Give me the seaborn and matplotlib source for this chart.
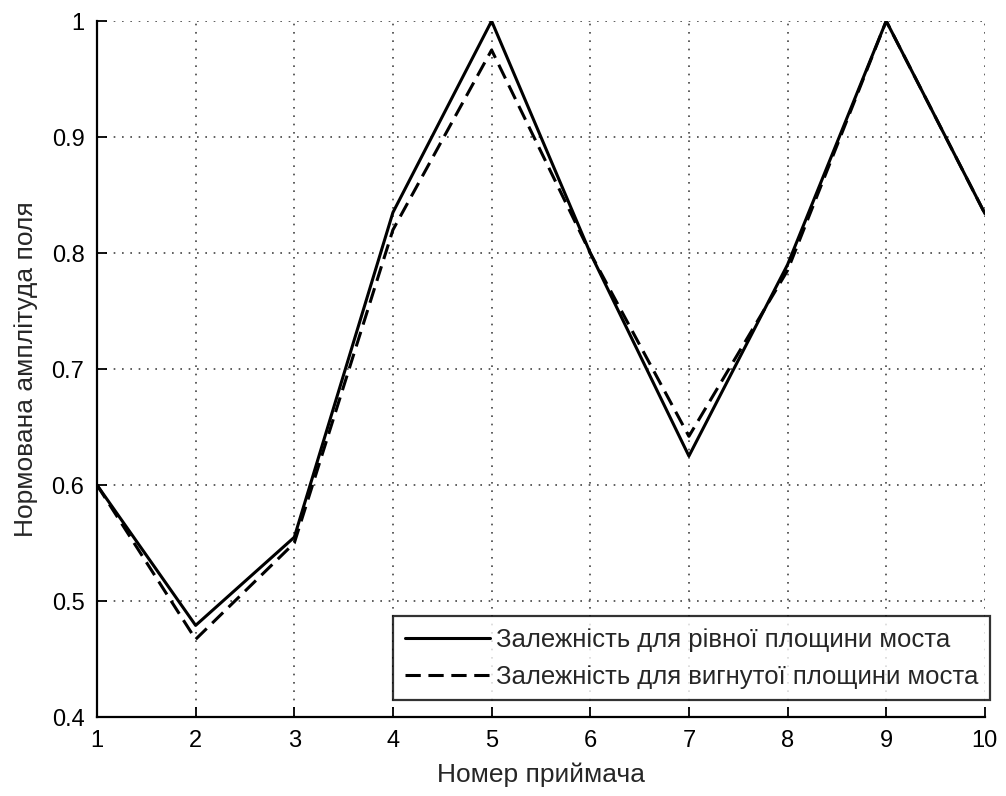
import matplotlib
matplotlib.use("Agg")
import matplotlib.pyplot as plt
import seaborn as sns
import pandas as pd

receivers = [1, 2, 3, 4, 5, 6, 7, 8, 9, 10]
flat = [0.600, 0.479, 0.555, 0.835, 1.000, 0.800, 0.625, 0.790, 1.000, 0.834]
bent = [0.600, 0.467, 0.550, 0.820, 0.975, 0.800, 0.642, 0.785, 1.000, 0.834]
series_names = ["Залежність для рівної площини моста",
                "Залежність для вигнутої площини моста"]
xticks = [1, 2, 3, 4, 5, 6, 7, 8, 9, 10]
yticks = [0.4, 0.5, 0.6, 0.7, 0.8, 0.9, 1.0]
ytick_labels = ["0.4", "0.5", "0.6", "0.7", "0.8", "0.9", "1"]
xlabel = "Номер приймача"
ylabel = "Нормована амплітуда поля"

df = pd.DataFrame({
    "x": receivers * 2,
    "y": flat + bent,
    "series": [series_names[0]] * len(receivers) + [series_names[1]] * len(receivers),
})

sns.set_style("ticks")
plt.rcParams["font.family"] = ["Liberation Sans", "DejaVu Sans"]

fig = plt.figure(figsize=(10.06, 7.96), dpi=100)
ax = fig.add_axes([0.0964, 0.0992, 0.979 - 0.0964, 0.9736 - 0.0992])

sns.lineplot(data=df, x="x", y="y", style="series", color="black",
             dashes={series_names[0]: "", series_names[1]: (5, 2.5)},
             linewidth=2.2, ax=ax, legend=True)

ax.set_xlim(1, 10)
ax.set_ylim(0.4, 1.0)
ax.set_xticks(xticks)
ax.set_xticklabels([str(v) for v in xticks], fontsize=17)
ax.set_yticks(yticks)
ax.set_yticklabels(ytick_labels, fontsize=17)
ax.tick_params(direction="in", length=7, width=1.3, colors="black", pad=9)
ax.grid(True, linestyle=(0, (1, 4)), color="#444444", linewidth=1.2)
ax.set_xlabel(xlabel, fontsize=19, labelpad=8)
ax.set_ylabel(ylabel, fontsize=19, labelpad=10)
for s in ["top", "right"]:
    ax.spines[s].set_visible(False)
for s in ["left", "bottom"]:
    ax.spines[s].set_linewidth(1.6)
    ax.spines[s].set_color("black")

leg = ax.legend(loc="lower right", bbox_to_anchor=(1.006, 0.024), fontsize=18.5,
                frameon=True, fancybox=False, edgecolor="black",
                handlelength=3.3, handletextpad=0.25, borderpad=0.45,
                labelspacing=0.5, borderaxespad=0)
leg.get_frame().set_linewidth(1.6)

fig.savefig("out.png", dpi=100)
